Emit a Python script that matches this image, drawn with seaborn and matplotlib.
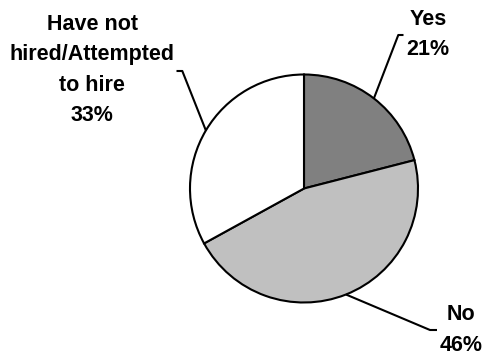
import numpy as np
import matplotlib
matplotlib.use("Agg")
import matplotlib.pyplot as plt
import seaborn as sns

categories = ["Yes", "No", "Have not\nhired/Attempted\nto hire"]
shares = [21, 46, 33]
colors = ["#808080", "#c0c0c0", "#ffffff"]

sns.set_theme(style="white")
plt.rcParams["font.family"] = ["Liberation Sans", "DejaVu Sans"]

W, H = 486, 351
fig = plt.figure(figsize=(W / 100, H / 100), dpi=100)
ax = fig.add_axes([0, 0, 1, 1])

cx, cy, r = 304, 351 - 188.5, 114
wedges, _ = ax.pie(shares, colors=colors, startangle=90, counterclock=False,
                   center=(cx, cy), radius=r, frame=True,
                   wedgeprops=dict(edgecolor="black", linewidth=1.5))
ax.set_xlim(0, W)
ax.set_ylim(0, H)
ax.set_aspect("equal")
ax.axis("off")

# elbow point, end of horizontal tick, text anchor
leaders = [
    ((398.3, 35), (403.5, 35), (428, 34.5)),
    ((430, 330), (437, 330), (461, 330)),
    ((182.3, 71), (176.5, 71), (92, 70)),
]

for w, cat, val, (elbow, end, txt) in zip(wedges, categories, shares, leaders):
    mid = np.deg2rad((w.theta1 + w.theta2) / 2)
    sx, sy = cx + r * np.cos(mid), cy + r * np.sin(mid)
    xs = [sx, elbow[0], end[0]]
    ys = [sy, H - elbow[1], H - end[1]]
    ax.plot(xs, ys, color="black", lw=1.5, solid_capstyle="butt")
    ax.text(txt[0], H - txt[1], f"{cat}\n{val}%", ha="center", va="center",
            fontsize=15.5, fontweight="bold", color="black", linespacing=1.6)

fig.savefig("out.png", dpi=100)
